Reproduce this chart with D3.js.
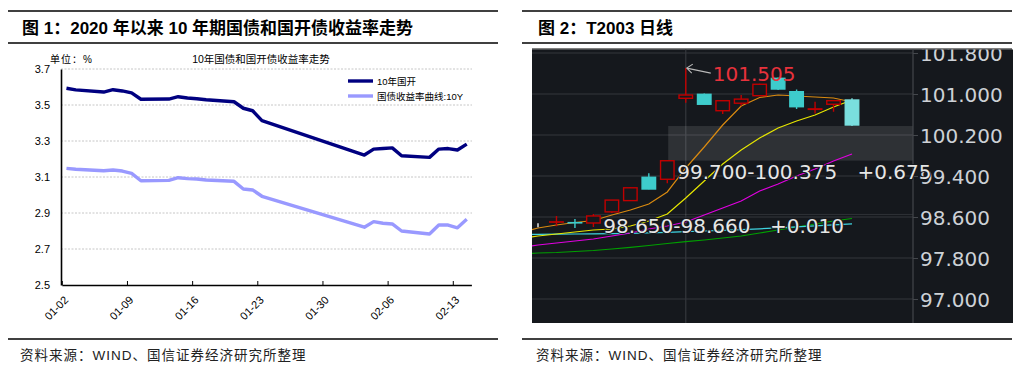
<!DOCTYPE html>
<html>
<head>
<meta charset="utf-8">
<script src="https://cdn.jsdelivr.net/npm/d3@7"></script>
<style>
  body { margin: 0; background: #fff; }
  svg { display: block; }
</style>
</head>
<body>
<div id="chart"></div>
<script>
// ---- figure 1: 10y yields (left) ----
const tradeDates = ['2020-01-02', '2020-01-03', '2020-01-06', '2020-01-07', '2020-01-08', '2020-01-09', '2020-01-10',
  '2020-01-13', '2020-01-14', '2020-01-15', '2020-01-16', '2020-01-17', '2020-01-20', '2020-01-21', '2020-01-22',
  '2020-01-23', '2020-02-03', '2020-02-04', '2020-02-05', '2020-02-06', '2020-02-07', '2020-02-10', '2020-02-11',
  '2020-02-12', '2020-02-13', '2020-02-14'];
const cdbYield = [3.593, 3.584, 3.572, 3.585, 3.578, 3.567, 3.532, 3.533, 3.546, 3.539, 3.535, 3.529, 3.518, 3.482,
  3.468, 3.413, 3.222, 3.255, 3.258, 3.262, 3.218, 3.209, 3.255, 3.258, 3.250, 3.283];
const govYield = [3.148, 3.143, 3.135, 3.139, 3.133, 3.120, 3.079, 3.081, 3.096, 3.091, 3.089, 3.083, 3.076, 3.033,
  3.028, 2.993, 2.821, 2.852, 2.843, 2.839, 2.800, 2.783, 2.833, 2.833, 2.818, 2.865];
const yieldTicks = [2.5, 2.7, 2.9, 3.1, 3.3, 3.5, 3.7];
const dateTickLabels = ['01-02', '01-09', '01-16', '01-23', '01-30', '02-06', '02-13'];
const seriesNames = ['10年国开', '国债收益率曲线:10Y'];

// ---- figure 2: T2003 daily candles (right) ----
const candleOpen  = [98.444, 98.500, 98.490, 98.483, 98.700, 98.920, 99.375, 99.336, 100.916, 100.994, 100.674, 100.820, 100.967, 101.306, 101.045, 100.700, 100.800, 100.883];
const candleHigh  = [98.480, 98.620, 98.560, 98.659, 98.930, 99.180, 99.453, 99.700, 101.505, 101.010, 100.870, 100.980, 101.200, 101.320, 101.090, 100.850, 100.870, 100.916];
const candleLow   = [98.400, 98.420, 98.385, 98.405, 98.680, 98.910, 99.140, 99.258, 100.830, 100.800, 100.610, 100.770, 100.960, 101.080, 100.707, 100.620, 100.655, 100.376];
const candleClose = [98.444, 98.505, 98.485, 98.620, 98.930, 99.170, 99.146, 99.698, 100.980, 100.800, 100.869, 100.900, 101.190, 101.097, 100.752, 100.710, 100.870, 100.395];
// moving averages, first value is the bar before the visible window
const ma5  = [98.288, 98.385, 98.444, 98.493, 98.532, 98.639, 98.737, 98.854, 99.088, 99.556, 99.966, 100.395, 100.766, 100.932, 100.980, 100.961, 100.941, 100.922, 100.844];
const ma10 = [98.171, 98.229, 98.268, 98.307, 98.346, 98.366, 98.424, 98.522, 98.659, 98.971, 99.302, 99.634, 99.907, 100.141, 100.337, 100.473, 100.590, 100.746, 100.883];
const ma20 = [97.995, 98.054, 98.093, 98.132, 98.171, 98.229, 98.288, 98.366, 98.424, 98.502, 98.639, 98.776, 98.912, 99.107, 99.244, 99.400, 99.537, 99.693, 99.829];
const ma40 = [98.259, 98.262, 98.264, 98.268, 98.272, 98.276, 98.282, 98.292, 98.301, 98.313, 98.327, 98.340, 98.354, 98.370, 98.389, 98.409, 98.428, 98.448, 98.467];
const ma60 = [97.878, 97.898, 97.907, 97.927, 97.946, 97.976, 98.009, 98.044, 98.083, 98.118, 98.151, 98.190, 98.229, 98.288, 98.346, 98.405, 98.463, 98.522, 98.571];
const priceTicks = [97.0, 97.8, 98.6, 99.4, 100.2, 101.0, 101.8];
const rangeLow = [98.650, 99.700];
const rangeHigh = [98.660, 100.375];
const rangeStartBar = [3.05, 7.05];
const rangeDelta = ['+0.010', '+0.675'];
const rangeDeltaBar = [12.56, 17.3];
const peakBar = 8;

const W = 1026, H = 379;
const svg = d3.select('#chart').append('svg')
    .attr('width', W)
    .attr('height', H)
    .style('background', '#fff');

const cjk = '"Liberation Sans", "Noto Sans CJK SC", sans-serif';

// header / footer rules and captions for both panels
const panels = [
    { x0: 8, x1: 498, title: '图 1：2020 年以来 10 年期国债和国开债收益率走势', tx: 22 },
    { x0: 522, x1: 1012, title: '图 2：T2003 日线', tx: 538 }
];
panels.forEach(p => {
    [11, 43, 339].forEach(y => {
        svg.append('line')
            .attr('x1', p.x0).attr('x2', p.x1)
            .attr('y1', y).attr('y2', y)
            .attr('stroke', '#000').attr('stroke-width', 1.4);
    });
    svg.append('text')
        .attr('x', p.tx).attr('y', 28)
        .attr('dominant-baseline', 'central')
        .style('font-family', cjk)
        .style('font-size', '17px')
        .style('font-weight', 'bold')
        .text(p.title);
    svg.append('text')
        .attr('x', p.tx - 2).attr('y', 355)
        .attr('dominant-baseline', 'central')
        .style('font-family', cjk)
        .style('font-size', '13.5px')
        .style('letter-spacing', '1px')
        .attr('fill', '#222')
        .text('资料来源：WIND、国信证券经济研究所整理');
});

// ================= left chart =================
const parseDate = d3.utcParse('%Y-%m-%d');
const dates = tradeDates.map(parseDate);
const x1 = d3.scaleUtc()
    .domain([parseDate('2020-01-02'), parseDate('2020-02-15')])
    .range([61.8, 471.4]);
const y1 = d3.scaleLinear().domain([2.5, 3.7]).range([285, 69]);

const left = svg.append('g');

left.selectAll('.grid')
    .data(yieldTicks.filter(d => d > 2.5))
    .enter().append('line')
    .attr('x1', 61).attr('x2', 472)
    .attr('y1', d => y1(d)).attr('y2', d => y1(d))
    .attr('stroke', '#b8b8b8')
    .attr('stroke-width', 0.8)
    .attr('stroke-dasharray', '2,1.5');

const yAxis = left.append('g')
    .attr('transform', 'translate(61,0)')
    .call(d3.axisLeft(y1).tickValues(yieldTicks).tickSize(0).tickPadding(11).tickFormat(d3.format('.1f')));
yAxis.select('.domain').attr('stroke', '#000').attr('stroke-width', 1.6);
yAxis.selectAll('text').style('font-family', '"Liberation Sans", Arial, sans-serif').style('font-size', '11px').attr('fill', '#000');

const tickDates = dateTickLabels.map(s => parseDate('2020-' + s));
const xAxis = left.append('g')
    .attr('transform', 'translate(0,285)')
    .call(d3.axisBottom(x1).tickValues(tickDates).tickSizeInner(-4).tickSizeOuter(0)
        .tickFormat((d, i) => dateTickLabels[i]));
xAxis.select('.domain').attr('stroke', '#000').attr('stroke-width', 1.6);
xAxis.selectAll('.tick line').attr('stroke', '#000');
xAxis.selectAll('text')
    .attr('y', 0).attr('dy', '0.35em')
    .attr('text-anchor', 'end')
    .attr('transform', 'translate(4,13) rotate(-45)')
    .style('font-family', '"Liberation Sans", Arial, sans-serif')
    .style('font-size', '11px')
    .attr('fill', '#000');

const yieldLine = vals => d3.line()
    .x((d, i) => x1(d3.utcHour.offset(dates[i], 12)))
    .y(d => y1(d))(vals);

const leftColors = ['#000080', '#9999ff'];
[cdbYield, govYield].forEach((vals, k) => {
    left.append('path')
        .attr('d', yieldLine(vals))
        .attr('fill', 'none')
        .attr('stroke', leftColors[k])
        .attr('stroke-width', 3.4)
        .attr('stroke-linejoin', 'round');
});

left.append('text')
    .attr('x', 50).attr('y', 59)
    .attr('dominant-baseline', 'central')
    .style('font-family', cjk).style('font-size', '10px')
    .style('letter-spacing', '1px')
    .text('单位：%');
left.append('text')
    .attr('x', 261).attr('y', 59)
    .attr('text-anchor', 'middle')
    .attr('dominant-baseline', 'central')
    .style('font-family', cjk).style('font-size', '10.5px')
    .text('10年国债和国开债收益率走势');

seriesNames.forEach((name, k) => {
    const ly = 81 + k * 15;
    left.append('line')
        .attr('x1', 348).attr('x2', 373)
        .attr('y1', ly).attr('y2', ly)
        .attr('stroke', leftColors[k]).attr('stroke-width', 3.4);
    left.append('text')
        .attr('x', 377).attr('y', ly)
        .attr('dominant-baseline', 'central')
        .style('font-family', cjk).style('font-size', '9.5px')
        .text(name);
});

// ================= right chart =================
const bg = '#15181d';
svg.append('line')
    .attr('x1', 532).attr('x2', 1012).attr('y1', 49).attr('y2', 49)
    .attr('stroke', '#000').attr('stroke-width', 1.2);
svg.append('rect')
    .attr('x', 532).attr('y', 49.5)
    .attr('width', 481).attr('height', 273.5)
    .attr('fill', bg);

const defs = svg.append('defs');
defs.append('clipPath').attr('id', 'plotClip')
    .append('rect').attr('x', 532).attr('y', 49.5).attr('width', 381).attr('height', 273.5);
defs.append('clipPath').attr('id', 'panelClip')
    .append('rect').attr('x', 532).attr('y', 49.5).attr('width', 481).attr('height', 273.5);

const x2 = d3.scaleLinear().domain([0, 17]).range([538, 852]);
const y2 = d3.scaleLinear().domain([97, 101.8]).range([299, 53]);
const axisX = 913;

const right = svg.append('g').attr('clip-path', 'url(#panelClip)');
const plot = right.append('g').attr('clip-path', 'url(#plotClip)');

plot.selectAll('.pgrid')
    .data(priceTicks)
    .enter().append('line')
    .attr('x1', 532).attr('x2', axisX)
    .attr('y1', d => y2(d)).attr('y2', d => y2(d))
    .attr('stroke', '#34373c').attr('stroke-width', 1.2);
plot.append('line')
    .attr('x1', x2(peakBar)).attr('x2', x2(peakBar))
    .attr('y1', 49).attr('y2', 323)
    .attr('stroke', '#34373c').attr('stroke-width', 1.2);

// measured ranges
rangeLow.forEach((lo, k) => {
    plot.append('rect')
        .attr('x', x2(rangeStartBar[k]))
        .attr('y', y2(rangeHigh[k]))
        .attr('width', axisX - x2(rangeStartBar[k]))
        .attr('height', Math.max(1, y2(lo) - y2(rangeHigh[k])))
        .attr('fill', '#ffffff').attr('fill-opacity', 0.11);
});

const maLine = d3.line()
    .x((d, i) => x2(i - 1))
    .y(d => y2(d));
const maColors = ['#d98a10', '#e6e600', '#e000e0', '#3fd4e0', '#00a000'];
[ma60, ma40, ma20, ma10, ma5].forEach((vals, k) => {
    plot.append('path')
        .attr('d', maLine(vals))
        .attr('fill', 'none')
        .attr('stroke', maColors[4 - k])
        .attr('stroke-width', 1.2);
});

const up = '#c00000', down = '#3ecccc', last = '#7adede';
const bars = candleOpen.map((o, i) => ({ i, o, h: candleHigh[i], l: candleLow[i], c: candleClose[i] }));
const barColor = d => d.c > d.o ? up : d.c < d.o ? (d.i === bars.length - 1 ? last : down) : '#f0f0f0';
const bw = 13.5;

const candles = plot.selectAll('.candle')
    .data(bars)
    .enter().append('g');
candles.append('line')
    .attr('x1', d => x2(d.i)).attr('x2', d => x2(d.i))
    .attr('y1', d => y2(d.h)).attr('y2', d => y2(d.l))
    .attr('stroke', barColor).attr('stroke-width', 1.4);
candles.append('rect')
    .attr('x', d => x2(d.i) - bw / 2)
    .attr('y', d => y2(Math.max(d.o, d.c)))
    .attr('width', bw)
    .attr('height', d => Math.abs(y2(d.o) - y2(d.c)))
    .attr('fill', d => d.c > d.o ? bg : barColor(d))
    .attr('stroke', barColor)
    .attr('stroke-width', 1.4);

// price axis
right.append('line')
    .attr('x1', axisX).attr('x2', axisX).attr('y1', 49).attr('y2', 323)
    .attr('stroke', '#44474c').attr('stroke-width', 1.2);
const pAxis = right.append('g')
    .attr('transform', `translate(${axisX},0)`)
    .call(d3.axisRight(y2).tickValues(priceTicks).tickSize(5).tickPadding(2).tickFormat(d3.format('.3f')));
pAxis.select('.domain').remove();
pAxis.selectAll('.tick line').attr('stroke', '#44474c');
pAxis.selectAll('text')
    .attr('dy', '0.38em')
    .attr('fill', '#cdd1d6')
    .style('font-family', '"DejaVu Sans", Verdana, sans-serif')
    .style('font-size', '20px');

// annotations
const noteFont = '"DejaVu Sans", Verdana, sans-serif';
const peakY = y2(candleHigh[peakBar]);
plot.append('path')
    .attr('d', `M${x2(peakBar) + 25},${peakY + 5} L${x2(peakBar) + 1},${peakY} M${x2(peakBar) + 7},${peakY - 4} L${x2(peakBar) + 1},${peakY} L${x2(peakBar) + 6},${peakY + 5}`)
    .attr('fill', 'none')
    .attr('stroke', '#b8b8b8').attr('stroke-width', 1.1);
right.append('text')
    .attr('x', x2(peakBar) + 27).attr('y', peakY + 6)
    .attr('dominant-baseline', 'central')
    .attr('fill', '#e8323c')
    .style('font-family', noteFont).style('font-size', '20px')
    .text(d3.format('.3f')(candleHigh[peakBar]));

rangeLow.forEach((lo, k) => {
    const ty = y2(lo) + 11.5;
    const label = `${d3.format('.3f')(lo)}-${d3.format('.3f')(rangeHigh[k])}`;
    [[x2(rangeStartBar[k]) + 9, label], [x2(rangeDeltaBar[k]), rangeDelta[k]]].forEach(([tx, str]) => {
        right.append('text')
            .attr('x', tx).attr('y', ty)
            .attr('dominant-baseline', 'central')
            .attr('fill', '#e6e6e6')
            .attr('stroke', bg).attr('stroke-width', 2)
            .attr('paint-order', 'stroke')
            .style('font-family', noteFont).style('font-size', '20px')
            .text(str);
    });
});
</script>
</body>
</html>
